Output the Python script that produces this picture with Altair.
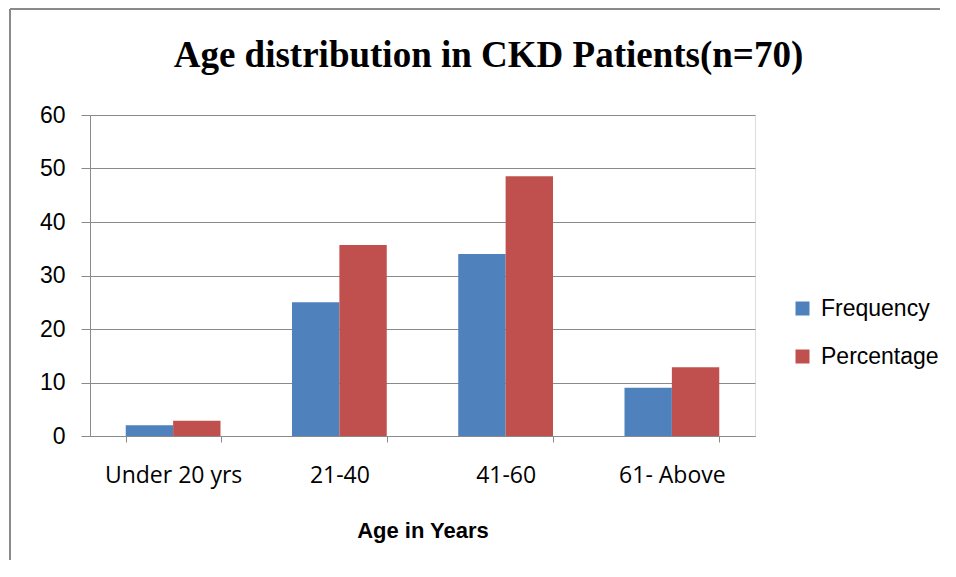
import altair as alt
import pandas as pd

categories = ["Under 20 yrs", "21-40", "41-60", "61- Above"]
series = ["Frequency", "Percentage"]
frequency = [2, 25, 34, 9]
percentage = [2.86, 35.71, 48.57, 12.86]

rows = []
for c, f, p in zip(categories, frequency, percentage):
    rows.append({"Age": c, "Series": "Frequency", "Value": f})
    rows.append({"Age": c, "Series": "Percentage", "Value": p})
df = pd.DataFrame(rows)

SANS = "Liberation Sans, Arial, sans-serif"
XFONT = "Open Sans, sans-serif"
GRID = "#8a8a8a"

bars = alt.Chart(df).mark_bar().encode(
    x=alt.X("Age:N", sort=categories,
            scale=alt.Scale(paddingInner=0.43, paddingOuter=0.215),
            axis=alt.Axis(title="Age in Years", labelAngle=0, tickBand="extent",
                          grid=False, domainColor=GRID, tickColor=GRID,
                          tickSize=6, labelFontSize=23, labelFont=XFONT,
                          labelColor="#000", labelPadding=22,
                          titleFont=SANS, titleFontSize=22, titleFontWeight="bold",
                          titleColor="#000", titlePadding=33)),
    xOffset=alt.XOffset("Series:N", sort=series),
    y=alt.Y("Value:Q", scale=alt.Scale(domain=[0, 60]),
            axis=alt.Axis(title=None, values=[0, 10, 20, 30, 40, 50, 60],
                          gridColor=GRID, gridWidth=1.2, domainColor=GRID,
                          tickColor=GRID, tickSize=9, labelFontSize=23,
                          labelFont=SANS, labelColor="#000", labelPadding=16)),
    color=alt.Color("Series:N", sort=series,
                    scale=alt.Scale(domain=series, range=["#4F81BD", "#C0504D"]),
                    legend=alt.Legend(title=None, orient="none", legendX=701, legendY=182,
                                      padding=0, symbolType="square", symbolSize=196,
                                      symbolStrokeWidth=0, labelFont=SANS,
                                      labelFontSize=23, labelColor="#000",
                                      rowPadding=24, labelOffset=7)),
)

border_df = pd.DataFrame({"k": [0]})
left_border = alt.Chart(border_df).mark_rule(color="#8a8a8a", strokeWidth=2).encode(
    x=alt.value(-80), y=alt.value(-106), y2=alt.value(470))
top_border = alt.Chart(border_df).mark_rule(color="#8a8a8a", strokeWidth=2).encode(
    x=alt.value(-80), x2=alt.value(850), y=alt.value(-106))

chart = alt.layer(bars, left_border, top_border).properties(
    width=665, height=321,
    title=alt.TitleParams("Age distribution in CKD Patients(n=70)",
                          font="Liberation Serif, Times New Roman, serif",
                          fontSize=37, fontWeight="bold", color="#000",
                          anchor="middle", frame="group", dx=66, offset=-67),
    autosize=alt.AutoSizeParams(type="none"),
    padding={"left": 82, "top": 107, "right": 190, "bottom": 124},
).configure_view(stroke=None).configure(background="white")

chart.save("out.html", embed_options={"renderer": "svg", "actions": False})
